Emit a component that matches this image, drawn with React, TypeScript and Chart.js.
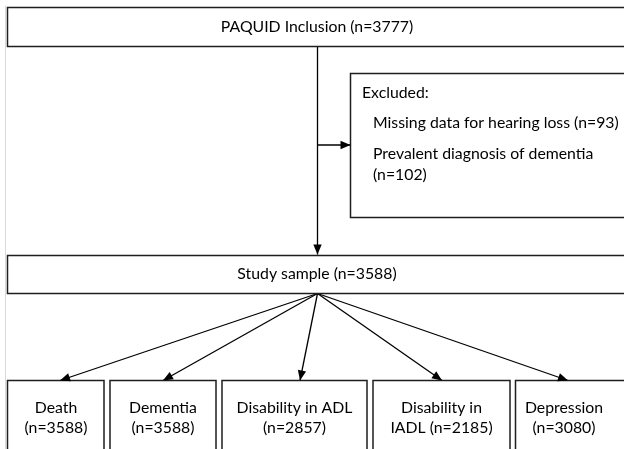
import React, { useEffect, useRef } from "react";
import { Chart, registerables } from "chart.js";

Chart.register(...registerables);

// ---- content ----
const stageLabels = ["PAQUID Inclusion (n=3777)", "Study sample (n=3588)"];
const excludedTitle = "Excluded:";
const excludedReasons = ["Missing data for hearing loss (n=93)", "Prevalent diagnosis of dementia", "(n=102)"];
const outcomeLabels = [
  ["Death", "(n=3588)"],
  ["Dementia", "(n=3588)"],
  ["Disability in ADL", "(n=2857)"],
  ["Disability in", "IADL (n=2185)"],
  ["Depression", "(n=3080)"],
];

// ---- layout (diagram units = page pixels) ----
const stageBoxes = [
  { x0: 7.5, y0: 7.5, x1: 640, y1: 46.5, cx: 317, cy: 27 },
  { x0: 7.5, y0: 255.5, x1: 640, y1: 293.5, cx: 317, cy: 274 },
];
const excludedBox = { x0: 350.5, y0: 73.5, x1: 640, y1: 217.5 };
const excludedTitlePos = { x: 362, y: 93 };
const excludedReasonPos = [
  { x: 373, y: 123 },
  { x: 373, y: 154 },
  { x: 373, y: 175 },
];
const outcomeBoxes = [
  { x0: 7.5, x1: 104 },
  { x0: 110, x1: 216 },
  { x0: 222, x1: 367 },
  { x0: 373, x1: 510 },
  { x0: 515.5, x1: 640 },
];
const outcomeTextX = [56, 163, 294.5, 441.5, 564];
const outcomeTop = 380.5;
const outcomeBottom = 470;
const outcomeTextY = [408, 428];
const outcomeArrowTipX = [60, 163, 300, 442, 568];
const trunkX = 317.5;
const branchY = 145;

const FONT = "15.8px Lato";

const arrowPlugin = {
  id: "flowBoxes",
  afterDatasetsDraw(chart: any) {
    const ctx = chart.ctx as CanvasRenderingContext2D;
    const xs = chart.scales.x;
    const ys = chart.scales.y;
    const px = (v: number) => xs.getPixelForValue(v);
    const py = (v: number) => ys.getPixelForValue(v);

    ctx.save();
    // page edge line
    ctx.strokeStyle = "#d9d9d9";
    ctx.lineWidth = 1;
    ctx.beginPath();
    ctx.moveTo(px(5.5), py(5.5));
    ctx.lineTo(px(5.5), py(449));
    ctx.stroke();

    ctx.strokeStyle = "#1e1e1e";
    ctx.lineWidth = 1.5;
    const rect = (x0: number, y0: number, x1: number, y1: number) => {
      ctx.strokeRect(px(x0), py(y0), px(x1) - px(x0), py(y1) - py(y0));
    };
    stageBoxes.forEach((b) => rect(b.x0, b.y0, b.x1, b.y1));
    rect(excludedBox.x0, excludedBox.y0, excludedBox.x1, excludedBox.y1);
    outcomeBoxes.forEach((b) => rect(b.x0, outcomeTop, b.x1, outcomeBottom));

    // arrowheads: at end of each dataset line
    ctx.fillStyle = "#000";
    chart.data.datasets.forEach((ds: any) => {
      const d = ds.data;
      const a = d[d.length - 2];
      const b = d[d.length - 1];
      const x1 = px(b.x), y1 = py(b.y);
      const x0 = px(a.x), y0 = py(a.y);
      const ang = Math.atan2(y1 - y0, x1 - x0);
      const len = 10, hw = 4.2;
      ctx.beginPath();
      ctx.moveTo(x1, y1);
      ctx.lineTo(x1 - len * Math.cos(ang) + hw * Math.sin(ang), y1 - len * Math.sin(ang) - hw * Math.cos(ang));
      ctx.lineTo(x1 - len * Math.cos(ang) - hw * Math.sin(ang), y1 - len * Math.sin(ang) + hw * Math.cos(ang));
      ctx.closePath();
      ctx.fill();
    });

    // texts
    ctx.fillStyle = "#000";
    ctx.font = FONT;
    ctx.textBaseline = "middle";
    ctx.textAlign = "center";
    stageBoxes.forEach((b, i) => ctx.fillText(stageLabels[i], px(b.cx), py(b.cy)));
    outcomeLabels.forEach((lines, i) => {
      lines.forEach((t, j) => ctx.fillText(t, px(outcomeTextX[i]), py(outcomeTextY[j])));
    });
    ctx.textAlign = "left";
    ctx.fillText(excludedTitle, px(excludedTitlePos.x), py(excludedTitlePos.y));
    excludedReasons.forEach((t, i) => ctx.fillText(t, px(excludedReasonPos[i].x), py(excludedReasonPos[i].y)));
    ctx.restore();
  },
};

export default function App() {
  const ref = useRef<HTMLCanvasElement | null>(null);
  useEffect(() => {
    if (!ref.current) return;
    const lineDs = (pts: { x: number; y: number }[]) => ({
      data: pts,
      showLine: true,
      pointRadius: 0,
      borderColor: "#000",
      borderWidth: 1.3,
      fill: false,
      tension: 0,
    });
    const datasets = [
      lineDs([
        { x: trunkX, y: stageBoxes[0].y1 },
        { x: trunkX, y: stageBoxes[1].y0 - 1 },
      ]),
      lineDs([
        { x: trunkX, y: branchY },
        { x: excludedBox.x0, y: branchY },
      ]),
      ...outcomeArrowTipX.map((tx) =>
        lineDs([
          { x: trunkX, y: stageBoxes[1].y1 },
          { x: tx, y: outcomeTop },
        ])
      ),
    ];
    const chart = new Chart(ref.current, {
      type: "scatter",
      data: { datasets },
      options: {
        animation: false,
        responsive: false,
        maintainAspectRatio: false,
        layout: { padding: 0 },
        plugins: { legend: { display: false }, tooltip: { enabled: false } },
        scales: {
          x: { type: "linear", min: 0, max: 624, display: false },
          y: { type: "linear", min: 0, max: 449, reverse: true, display: false },
        },
        clip: false as any,
      },
      plugins: [arrowPlugin],
    });
    return () => chart.destroy();
  }, []);
  return (
    <div style={{ position: "absolute", left: 0, top: 0, width: 624, height: 449, background: "#fff" }}>
      <canvas ref={ref} width={624} height={449} style={{ width: 624, height: 449, display: "block" }} />
    </div>
  );
}
